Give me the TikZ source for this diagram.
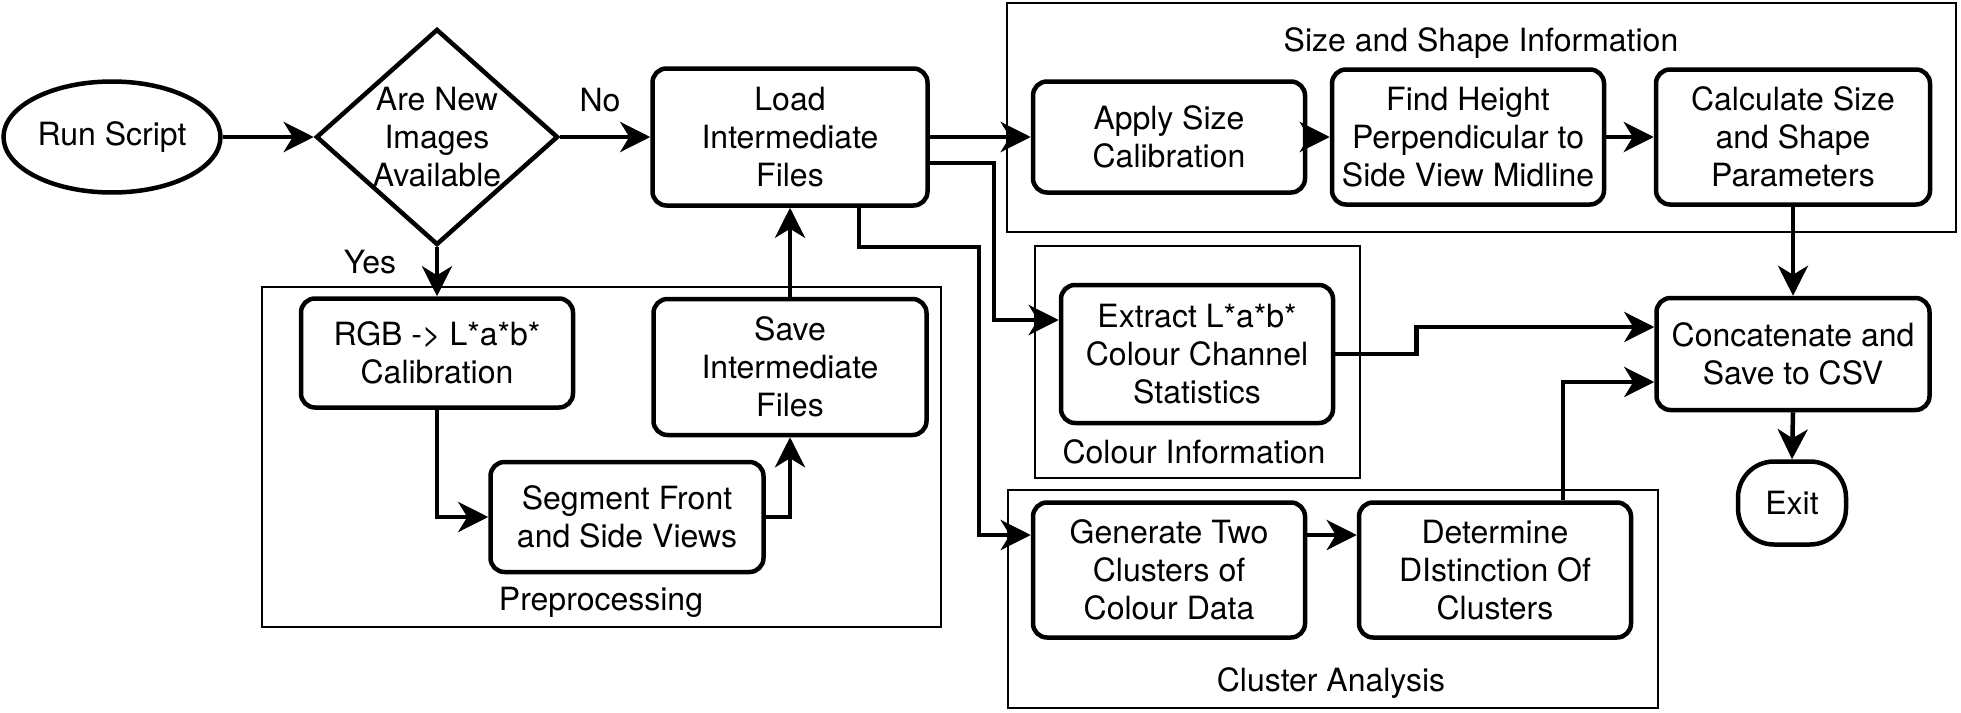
\documentclass[tikz,border=0pt]{standalone}
\usepackage{fontspec}
\setmainfont{TeX Gyre Heros}
\usetikzlibrary{shapes.geometric,arrows.meta}
\begin{document}
\begin{tikzpicture}[x=1pt,y=-1pt,
  font=\fontsize{32}{38}\selectfont,
  box/.style={draw, line width=4.5pt, rounded corners=14pt, align=center, inner sep=0pt, minimum width=272pt},
  grp/.style={draw, line width=2pt},
  arr/.style={line width=4.5pt, -{Stealth[length=30pt,width=30pt,inset=9pt]}}
]
\path[fill=white,use as bounding box] (0,0) rectangle (1961,712);

% groups
\draw[grp] (1007,3) rectangle (1956,232);
\draw[grp] (1035,246) rectangle (1360,478);
\draw[grp] (1008,490) rectangle (1658,708);
\draw[grp] (262,287) rectangle (941,627);
\node (lsize) at (1481,43) {Size and Shape Information};
\node (lcol) at (1194,452) {Colour Information};
\node (lclu) at (1331,683) {Cluster Analysis};
\node (lpre) at (601,602) {Preprocessing};

% nodes
\node[ellipse, draw, line width=4.5pt, minimum width=217pt, minimum height=111pt, inner sep=0pt] (run) at (112,137) {Run Script};
\node[diamond, draw, line width=4.5pt, minimum width=242pt, minimum height=216pt, inner sep=0pt,
  label={[align=center, inner sep=0pt]center:Are New\\Images\\Available}] (dia) at (437,137) {};
\node[box, minimum height=137pt, minimum width=275pt] (load) at (790,137) {Load\\Intermediate\\Files};
\node[box, minimum height=111pt] (apply) at (1169,137) {Apply Size\\Calibration};
\node[box, minimum height=135pt] (find) at (1468,137) {Find Height\\Perpendicular to\\Side View Midline};
\node[box, minimum height=135pt, minimum width=274pt] (calc) at (1793,137) {Calculate Size\\and Shape\\Parameters};
\node[box, minimum height=109pt] (rgb) at (437,353) {RGB -> L*a*b*\\Calibration};
\node[box, minimum height=136pt, minimum width=273pt] (save) at (790,367) {Save\\Intermediate\\Files};
\node[box, minimum height=110pt, minimum width=273pt] (seg) at (627,517) {Segment Front\\and Side Views};
\node[box, minimum height=138pt] (extract) at (1197,354) {Extract L*a*b*\\Colour Channel\\Statistics};
\node[box, minimum height=112pt, minimum width=273pt] (concat) at (1793,354) {Concatenate and\\Save to CSV};
\node[draw, line width=4.5pt, rounded corners=36pt, minimum width=108pt, minimum height=83pt, inner sep=0pt] (exit) at (1792,503) {Exit};
\node[box, minimum height=135pt] (gen) at (1169,570) {Generate Two\\Clusters of\\Colour Data};
\node[box, minimum height=135pt] (det) at (1495,570) {Determine\\DIstinction Of\\Clusters};

\node (no) at (600,100) {No};
\node (yes) at (370,262) {Yes};

% connectors
\draw[arr] (run.east) -- (dia.west);
\draw[arr] (dia.east) -- (load.west);
\draw[arr] (dia.south) -- (rgb.north);
\draw[arr] (load.east) -- (apply.west);
\draw[arr] (apply.east) -- (find.west);
\draw[arr] (find.east) -- (calc.west);
\draw[arr] (calc.south) -- (concat.north);
\draw[arr] ([yshift=-26pt]load.east) -- ++(64,0) |- ([yshift=34pt]extract.west);
\draw[arr] ([xshift=69pt]load.south) |- (979,247) |- ([yshift=35pt]gen.west);
\draw[arr] ([yshift=35pt]gen.east) -- ([yshift=35pt]det.west);
\draw[arr] ([xshift=68pt]det.north) |- ([yshift=-28pt]concat.west);
\draw[arr] (extract.east) -- ++(81,0) |- ([yshift=27pt]concat.west);
\draw[arr] (concat.south) -- (exit.north);
\draw[arr] (rgb.south) |- (seg.west);
\draw[arr] (seg.east) -| (save.south);
\draw[arr] (save.north) -- (load.south);
\end{tikzpicture}
\end{document}
